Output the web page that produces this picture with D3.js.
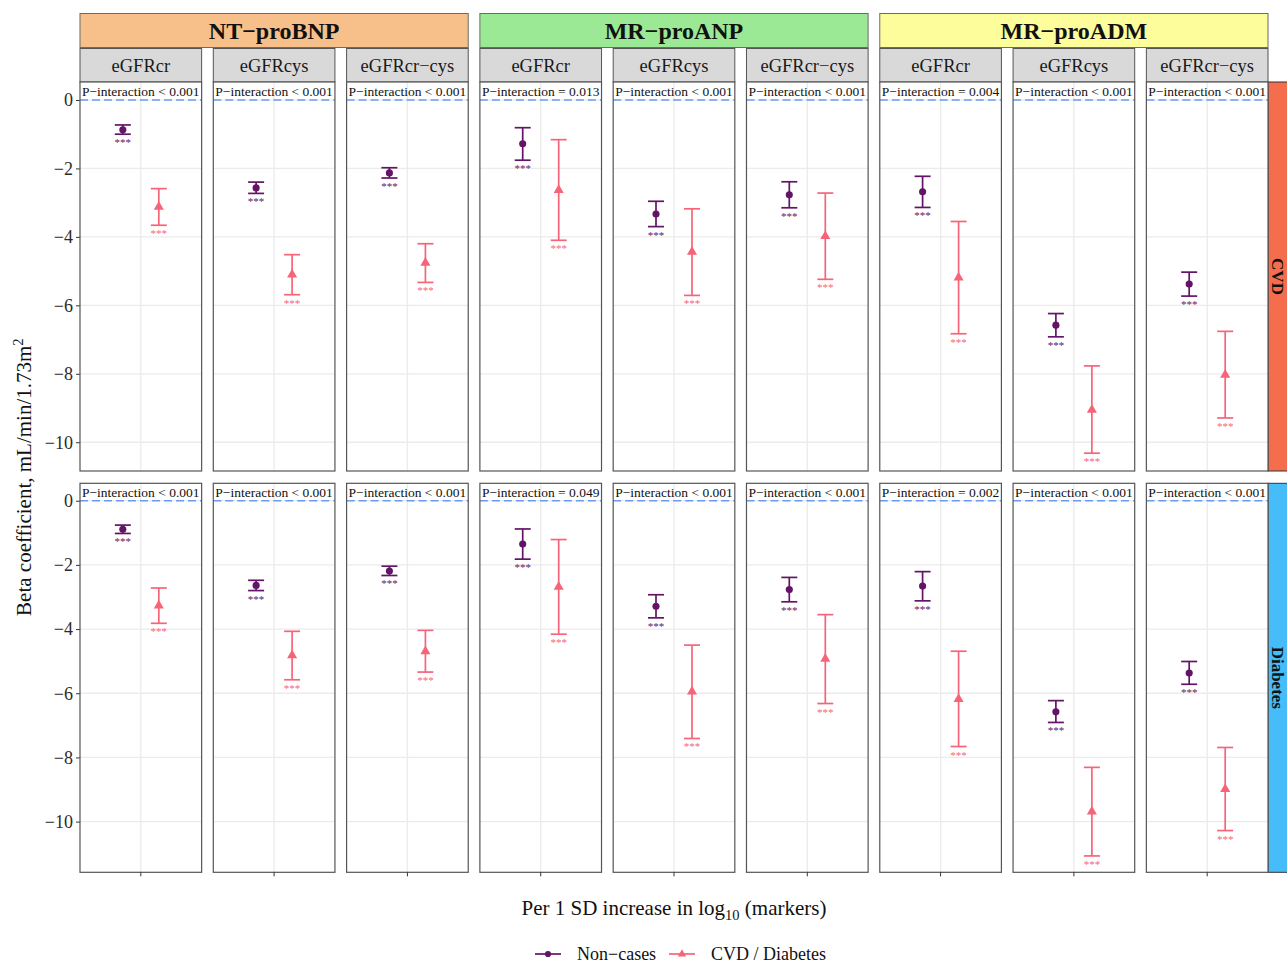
<!DOCTYPE html>
<html>
<head>
<meta charset="utf-8">
<script src="https://cdn.jsdelivr.net/npm/d3@7"></script>
<style>
  html, body { margin: 0; padding: 0; background: #fff; }
  svg { display: block; font-family: "Liberation Serif", "Times New Roman", serif; }
</style>
</head>
<body>
<svg id="chart" width="1287" height="964"></svg>
<script>
// ---- data -------------------------------------------------------------
const markers   = ["NT\u2212proBNP", "MR\u2212proANP", "MR\u2212proADM"];
const markerFill = ["#F7C08A", "#9BE994", "#FDFD9C"];
const equations = ["eGFRcr", "eGFRcys", "eGFRcr\u2212cys"];
const outcomes  = ["CVD", "Diabetes"];
const outcomeFill = ["#F46E4E", "#46BDF8"];
const series    = ["Non\u2212cases", "CVD / Diabetes"];
const seriesColor = ["#641466", "#F7647A"];
const yTicks    = [0, -2, -4, -6, -8, -10];

// panels ordered marker x equation (9 per outcome row)
const pInteractionCVD = ["< 0.001", "< 0.001", "< 0.001", "= 0.013", "< 0.001", "< 0.001", "= 0.004", "< 0.001", "< 0.001"];
const pInteractionDM  = ["< 0.001", "< 0.001", "< 0.001", "= 0.049", "< 0.001", "< 0.001", "= 0.002", "< 0.001", "< 0.001"];

// CVD row
const nonCasesBetaCVD  = [-0.87, -2.57, -2.13, -1.28, -3.33, -2.77, -2.68, -6.58, -5.38];
const nonCasesLowerCVD = [-1.00, -2.73, -2.28, -1.76, -3.70, -3.15, -3.14, -6.92, -5.73];
const nonCasesUpperCVD = [-0.73, -2.40, -1.98, -0.81, -2.96, -2.39, -2.23, -6.24, -5.03];
const casesBetaCVD     = [-3.12, -5.10, -4.76, -2.63, -4.44, -3.98, -5.19, -9.05, -8.03];
const casesLowerCVD    = [-3.66, -5.69, -5.33, -4.10, -5.71, -5.24, -6.83, -10.32, -9.29];
const casesUpperCVD    = [-2.59, -4.52, -4.20, -1.16, -3.18, -2.72, -3.55, -7.77, -6.76];

// Diabetes row
const nonCasesBetaDM   = [-0.89, -2.64, -2.19, -1.35, -3.29, -2.77, -2.66, -6.58, -5.37];
const nonCasesLowerDM  = [-1.02, -2.80, -2.33, -1.82, -3.65, -3.15, -3.12, -6.91, -5.72];
const nonCasesUpperDM  = [-0.76, -2.48, -2.04, -0.88, -2.93, -2.39, -2.21, -6.23, -5.01];
const casesBetaDM      = [-3.27, -4.82, -4.69, -2.68, -5.95, -4.93, -6.18, -9.69, -8.99];
const casesLowerDM     = [-3.82, -5.58, -5.34, -4.16, -7.41, -6.32, -7.66, -11.07, -10.28];
const casesUpperDM     = [-2.72, -4.07, -4.04, -1.21, -4.50, -3.55, -4.69, -8.31, -7.69];

const significance = "***";

// free y ranges per outcome row
const yDomainCVD = [-10.84, 0.525];
const yDomainDM  = [-11.58, 0.543];

// ---- assemble rows ----------------------------------------------------
const rows = [
  { outcome: outcomes[0], fill: outcomeFill[0], domain: yDomainCVD, p: pInteractionCVD,
    est: [nonCasesBetaCVD, casesBetaCVD], lo: [nonCasesLowerCVD, casesLowerCVD], hi: [nonCasesUpperCVD, casesUpperCVD] },
  { outcome: outcomes[1], fill: outcomeFill[1], domain: yDomainDM, p: pInteractionDM,
    est: [nonCasesBetaDM, casesBetaDM], lo: [nonCasesLowerDM, casesLowerDM], hi: [nonCasesUpperDM, casesUpperDM] }
];

// ---- layout -----------------------------------------------------------
const svg = d3.select("#chart");
const panelIdx = d3.range(markers.length * equations.length);
const xPanel = d3.scaleBand().domain(panelIdx).range([80, 1268]).paddingInner(0.0875).paddingOuter(0);
const bw = xPanel.bandwidth();
const rowTop = [82, 483.3];
const panelH = 389;
const dodge = d3.scaleBand().domain(series).range([-36, 36]);   // offsets from panel centre
const capHalf = 8;

const grid = "#EBEBEB", border = "#555";

// ---- top strips (marker, then equation) --------------------------------
markers.forEach((m, mi) => {
  const x0 = xPanel(mi * 3), x1 = xPanel(mi * 3 + 2) + bw;
  svg.append("rect").attr("x", x0).attr("y", 13.5).attr("width", x1 - x0).attr("height", 34)
    .attr("fill", markerFill[mi]).attr("stroke", "#6b6b6b").attr("stroke-width", 1);
  svg.append("text").attr("x", (x0 + x1) / 2).attr("y", 30.5).attr("text-anchor", "middle")
    .attr("dominant-baseline", "central").attr("font-size", 24).attr("font-weight", "bold")
    .attr("fill", "#111").text(m);
});
panelIdx.forEach(i => {
  const x0 = xPanel(i);
  svg.append("rect").attr("x", x0).attr("y", 48.5).attr("width", bw).attr("height", 33.5)
    .attr("fill", "#D9D9D9").attr("stroke", "#555").attr("stroke-width", 1);
  svg.append("text").attr("x", x0 + bw / 2).attr("y", 65.5).attr("text-anchor", "middle")
    .attr("dominant-baseline", "central").attr("font-size", 18.5).attr("fill", "#1a1a1a")
    .text(equations[i % 3]);
});

// ---- panels -----------------------------------------------------------
rows.forEach((row, ri) => {
  const top = rowTop[ri];
  const y = d3.scaleLinear().domain(row.domain).range([top + panelH, top]);

  // right-hand outcome strip
  svg.append("rect").attr("x", 1268).attr("y", top).attr("width", 34).attr("height", panelH)
    .attr("fill", row.fill).attr("stroke", "#333").attr("stroke-width", 1);
  svg.append("text")
    .attr("transform", `translate(${1277},${top + panelH / 2}) rotate(90)`)
    .attr("text-anchor", "middle").attr("dominant-baseline", "central")
    .attr("font-size", 17).attr("font-weight", "bold").attr("fill", "#111")
    .text(row.outcome);

  // y axis on the first column
  const yAxis = d3.axisLeft(y).tickValues(yTicks).tickSize(4).tickPadding(3)
    .tickFormat(d => d3.format("d")(d).replace("-", "\u2212"));
  const ag = svg.append("g").attr("transform", `translate(80,0)`).call(yAxis);
  ag.select(".domain").remove();
  ag.selectAll(".tick line").attr("stroke", "#333").attr("stroke-width", 1);
  ag.selectAll(".tick text").attr("font-size", 18).attr("fill", "#2b2b2b")
    .attr("font-family", "Liberation Serif, serif");

  panelIdx.forEach(i => {
    const x0 = xPanel(i), cx = x0 + bw / 2;
    const g = svg.append("g");

    g.append("rect").attr("x", x0).attr("y", top).attr("width", bw).attr("height", panelH).attr("fill", "#fff");
    // grid
    g.selectAll(".hg").data(yTicks).join("line")
      .attr("x1", x0).attr("x2", x0 + bw).attr("y1", d => y(d)).attr("y2", d => y(d))
      .attr("stroke", grid).attr("stroke-width", 1.3);
    g.append("line").attr("x1", cx).attr("x2", cx).attr("y1", top).attr("y2", top + panelH)
      .attr("stroke", grid).attr("stroke-width", 1.3);
    // reference line at zero
    g.append("line").attr("x1", x0).attr("x2", x0 + bw).attr("y1", y(0)).attr("y2", y(0))
      .attr("stroke", "#6A9BF4").attr("stroke-width", 1.5).attr("stroke-dasharray", "8,4");

    // interaction label
    g.append("text").attr("x", x0 + 2).attr("y", y(0) - 3.5).attr("font-size", 13.5)
      .attr("fill", "#111").text(`P\u2212interaction ${row.p[i]}`);

    // estimates with confidence intervals
    series.forEach((s, si) => {
      const px = cx + dodge(s) + dodge.bandwidth() / 2;
      const est = row.est[si][i], lo = row.lo[si][i], hi = row.hi[si][i];
      const col = seriesColor[si];
      g.append("line").attr("x1", px).attr("x2", px).attr("y1", y(hi)).attr("y2", y(lo))
        .attr("stroke", col).attr("stroke-width", 1.7);
      [hi, lo].forEach(v => g.append("line")
        .attr("x1", px - capHalf).attr("x2", px + capHalf).attr("y1", y(v)).attr("y2", y(v))
        .attr("stroke", col).attr("stroke-width", 1.7));
      const sym = si === 0 ? d3.symbolCircle : d3.symbolTriangle;
      g.append("path").attr("d", d3.symbol().type(sym).size(si === 0 ? 40 : 44)())
        .attr("transform", `translate(${px},${y(est)})`).attr("fill", col);
      g.append("text").attr("x", px).attr("y", y(lo) + 12).attr("text-anchor", "middle")
        .attr("font-size", 11).attr("fill", col).text(significance);
    });

    // panel border
    g.append("rect").attr("x", x0).attr("y", top).attr("width", bw).attr("height", panelH)
      .attr("fill", "none").attr("stroke", border).attr("stroke-width", 1.2);

    // x ticks under the bottom row
    if (ri === rows.length - 1) {
      g.append("line").attr("x1", cx).attr("x2", cx).attr("y1", top + panelH).attr("y2", top + panelH + 4)
        .attr("stroke", "#333").attr("stroke-width", 1);
    }
  });
});

// ---- axis titles --------------------------------------------------------
const yt = svg.append("text")
  .attr("transform", `translate(31,${(rowTop[0] + rowTop[1] + panelH) / 2}) rotate(-90)`)
  .attr("text-anchor", "middle").attr("font-size", 21).attr("fill", "#111");
yt.append("tspan").text("Beta coefficient, mL/min/1.73m");
yt.append("tspan").attr("font-size", 14.5).attr("dy", -8).text("2");

const xt = svg.append("text").attr("x", 674).attr("y", 915).attr("text-anchor", "middle")
  .attr("font-size", 21).attr("fill", "#111");
xt.append("tspan").text("Per 1 SD increase in log");
xt.append("tspan").attr("font-size", 14.5).attr("dy", 5).text("10");
xt.append("tspan").attr("dy", -5).text(" (markers)");

// ---- legend -------------------------------------------------------------
const legX = [535, 669];
series.forEach((s, si) => {
  const lg = svg.append("g").attr("transform", `translate(${legX[si]},954)`);
  lg.append("line").attr("x1", 0).attr("x2", 26).attr("y1", 0).attr("y2", 0)
    .attr("stroke", seriesColor[si]).attr("stroke-width", 1.7);
  lg.append("path").attr("d", d3.symbol().type(si === 0 ? d3.symbolCircle : d3.symbolTriangle).size(30)())
    .attr("transform", "translate(13,0)").attr("fill", seriesColor[si]);
  lg.append("text").attr("x", 42).attr("y", 0).attr("dominant-baseline", "central")
    .attr("font-size", 18).attr("fill", "#111").text(s);
});
</script>
</body>
</html>
